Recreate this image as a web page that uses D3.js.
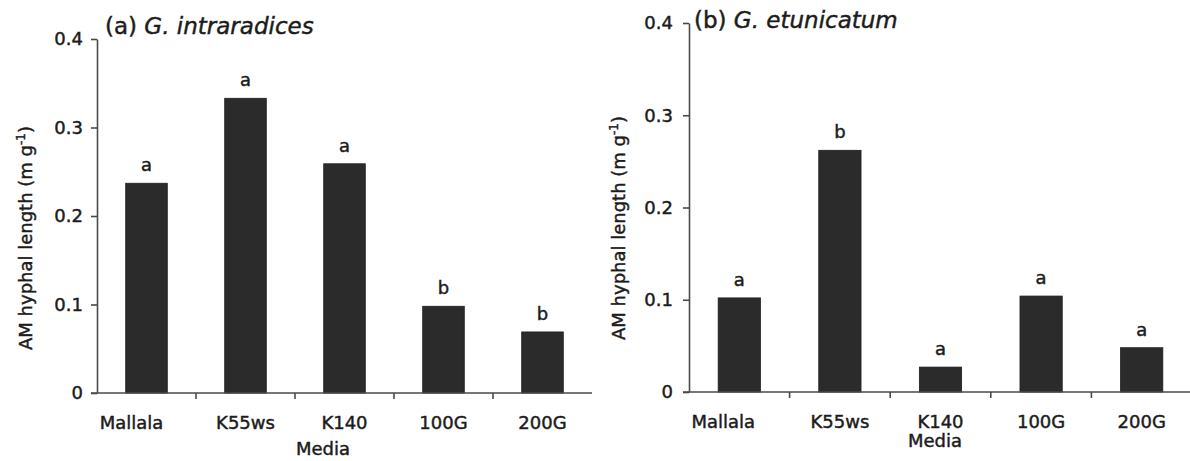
<!DOCTYPE html>
<html>
<head>
<meta charset="utf-8">
<script src="https://cdn.jsdelivr.net/npm/d3@7"></script>
<style>
  body { margin: 0; background: #fff; }
  svg text { font-family: "DejaVu Sans", sans-serif; fill: #1c1c1c; stroke: #1c1c1c; stroke-width: 0.45px; }
  .axis .domain, .axis line { stroke: #4a4a4a; stroke-width: 1.6px; }
</style>
</head>
<body>
<svg id="chart" width="1190" height="461"></svg>
<script>
// data
const media = ["Mallala", "K55ws", "K140", "100G", "200G"];
const intraradices = [0.237, 0.333, 0.259, 0.098, 0.069];
const intraradicesLetters = ["a", "a", "a", "b", "b"];
const etunicatum = [0.102, 0.262, 0.027, 0.104, 0.048];
const etunicatumLetters = ["a", "b", "a", "a", "a"];
const yTicks = [0, 0.1, 0.2, 0.3, 0.4];

const svg = d3.select("#chart");

// panel layout
const panels = [
  {
    tag: "(a) ", species: "G. intraradices", values: intraradices, letters: intraradicesLetters,
    x0: 97, x1: 592, yTop: 39, yBot: 393, titleX: 105, titleY: 34,
    yLabX: 32, yLabY: 238, mediaX: 323, mediaY: 455, firstShift: -15, tickPad: 8
  },
  {
    tag: "(b) ", species: "G. etunicatum", values: etunicatum, letters: etunicatumLetters,
    x0: 689, x1: 1192, yTop: 23, yBot: 392, titleX: 694, titleY: 28,
    yLabX: 625, yLabY: 228, mediaX: 935, mediaY: 447, firstShift: -16, tickPad: 10
  }
];

panels.forEach((p) => {
  const x = d3.scaleBand()
    .domain(media)
    .range([p.x0, p.x1])
    .paddingInner(0.58)
    .paddingOuter(0.29);

  const y = d3.scaleLinear().domain([0, 0.4]).range([p.yBot, p.yTop]);

  const g = svg.append("g");

  // bars
  g.selectAll("rect.bar")
    .data(p.values)
    .join("rect")
    .attr("class", "bar")
    .attr("x", (d, i) => x(media[i]))
    .attr("y", (d) => y(d))
    .attr("width", x.bandwidth())
    .attr("height", (d) => y(0) - y(d))
    .attr("fill", "#2b2b2b")
    .attr("stroke", "#1e1e1e")
    .attr("stroke-width", 0.8);

  // significance letters
  g.selectAll("text.sig")
    .data(p.values)
    .join("text")
    .attr("class", "sig")
    .attr("x", (d, i) => x(media[i]) + x.bandwidth() / 2)
    .attr("y", (d) => y(d) - 12)
    .attr("text-anchor", "middle")
    .attr("font-size", 18)
    .text((d, i) => p.letters[i]);

  // y axis
  g.append("g")
    .attr("class", "axis")
    .attr("transform", `translate(${p.x0},0)`)
    .call(d3.axisLeft(y)
      .tickValues(yTicks)
      .tickSize(6)
      .tickSizeOuter(0)
      .tickPadding(p.tickPad)
      .tickFormat((d) => (d === 0 ? "0" : d.toFixed(1))))
    .call((a) => a.selectAll("text").attr("font-size", 18).attr("font-family", "DejaVu Sans").attr("fill", "#1c1c1c"));

  // x axis: line with ticks between categories
  const step = x.step();
  const boundaries = d3.range(1, media.length).map((i) => p.x0 + step * i);
  const xa = g.append("g").attr("class", "axis");
  xa.append("line")
    .attr("x1", p.x0 - 6).attr("x2", p.x1)
    .attr("y1", y(0)).attr("y2", y(0));
  xa.selectAll("line.tk")
    .data(boundaries)
    .join("line")
    .attr("class", "tk")
    .attr("x1", (d) => d).attr("x2", (d) => d)
    .attr("y1", y(0)).attr("y2", y(0) + 6);

  // category labels
  g.selectAll("text.cat")
    .data(media)
    .join("text")
    .attr("class", "cat")
    .attr("x", (d, i) => x(d) + x.bandwidth() / 2 + (i === 0 ? p.firstShift : 0))
    .attr("y", p.yBot + 36)
    .attr("text-anchor", "middle")
    .attr("font-size", 18)
    .text((d) => d);

  g.append("text")
    .attr("x", p.mediaX)
    .attr("y", p.mediaY)
    .attr("text-anchor", "middle")
    .attr("font-size", 18)
    .text("Media");

  // y label
  const yl = g.append("text")
    .attr("transform", `translate(${p.yLabX},${p.yLabY}) rotate(-90)`)
    .attr("text-anchor", "middle")
    .attr("font-size", 18);
  yl.append("tspan").text("AM hyphal length (m g");
  yl.append("tspan").attr("font-size", 12).attr("dy", -7).text("-1");
  yl.append("tspan").attr("dy", 7).text(")");

  // panel title
  const t = g.append("text")
    .attr("x", p.titleX)
    .attr("y", p.titleY)
    .attr("font-size", 23);
  t.append("tspan").text(p.tag);
  t.append("tspan").attr("font-style", "italic").text(p.species);
});
</script>
</body>
</html>
